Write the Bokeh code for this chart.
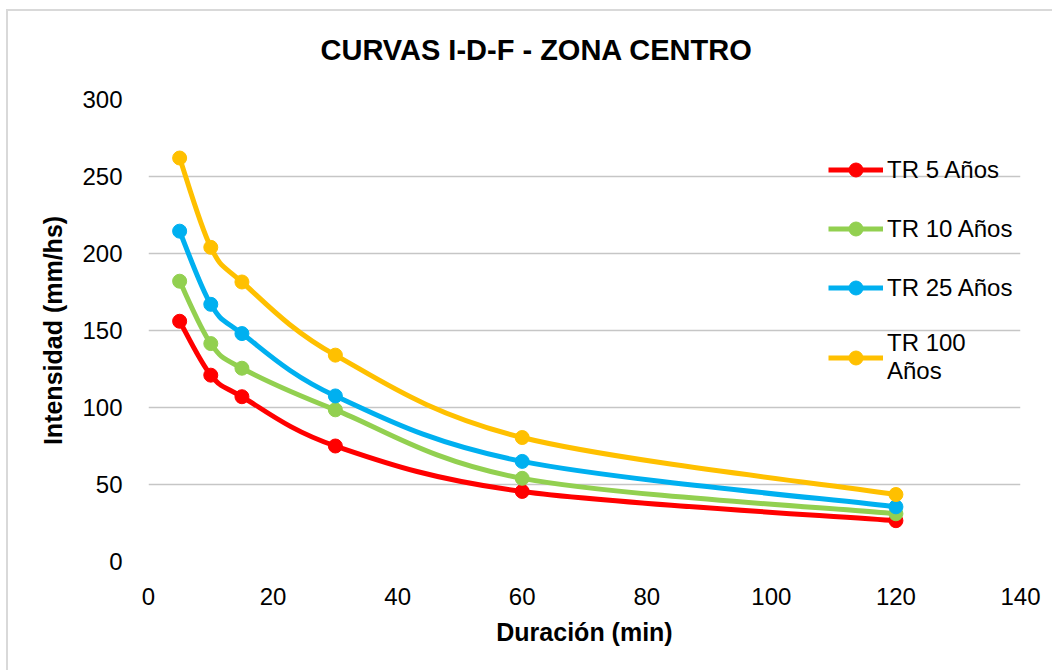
import numpy as np
from bokeh.plotting import figure
from bokeh.models import ColumnDataSource, Legend, LegendItem, Range1d, FixedTicker
from bokeh.embed import file_html
from bokeh.resources import INLINE

# ---- data ----
duracion = [5, 10, 15, 30, 60, 120]
tr5 = [156, 121, 107, 75, 45.5, 26.5]
tr10 = [182, 141.5, 125.5, 98.5, 54, 31]
tr25 = [214.5, 167, 148, 107.5, 65, 35.5]
tr100 = [262, 204, 181.5, 134, 80.5, 43.5]
series_names = ["TR 5 Años", "TR 10 Años", "TR 25 Años", "TR 100\nAños"]
series_colors = ["#FF0000", "#92D050", "#00B0F0", "#FFC000"]
x_ticks = [0, 20, 40, 60, 80, 100, 120, 140]
y_ticks = [0, 50, 100, 150, 200, 250, 300]
title_text = "CURVAS I-D-F  -  ZONA CENTRO"

FONT = "Liberation Sans"
OX, OY = 8, 11  # offset of chart box in the window

p = figure(width=1054 - OX, height=672 - OY, output_backend="svg", toolbar_location=None,
           x_range=Range1d(0, 140), y_range=Range1d(0, 300),
           min_border_left=148 - OX, min_border_right=34, min_border_top=99 - OY,
           min_border_bottom=111)
p.styles = {"margin-left": f"{OX - 2}px", "margin-top": f"{OY - 2}px",
            "border-left": "2px solid #d9d9d9", "border-top": "2px solid #d9d9d9"}

p.title.text = title_text + "\n"
p.title.text_font = FONT
p.title.text_font_size = "29px"
p.title.text_font_style = "bold"
p.title.text_color = "black"
p.title.align = "left"
p.title.offset = 172
p.title.standoff = 4

p.outline_line_color = None
p.background_fill_color = "white"
p.border_fill_color = "white"

p.xgrid.grid_line_color = None
p.ygrid.grid_line_color = "#c6c6c6"
p.ygrid.grid_line_width = 1.5
p.xaxis.ticker = FixedTicker(ticks=x_ticks)
p.yaxis.ticker = FixedTicker(ticks=y_ticks)
for ax in (p.xaxis, p.yaxis):
    ax.axis_line_color = None
    ax.major_tick_line_color = None
    ax.minor_tick_line_color = None
    ax.major_label_text_font = FONT
    ax.major_label_text_font_size = "24px"
    ax.major_label_text_color = "black"
    ax.axis_label_text_font = FONT
    ax.axis_label_text_font_size = "25px"
    ax.axis_label_text_font_style = "bold"
    ax.axis_label_text_color = "black"
p.xaxis.axis_label = "Duración (min)"
p.yaxis.axis_label = "Intensidad (mm/hs)"
p.xaxis.major_label_standoff = 20
p.yaxis.major_label_standoff = 20
p.xaxis.axis_label_standoff = 10
p.yaxis.axis_label_standoff = 12


def bezier_source(xs, ys):
    x = np.array(xs, dtype=float)
    y = np.array(ys, dtype=float)
    xp = np.concatenate([[x[0]], x, [x[-1]]])
    yp = np.concatenate([[y[0]], y, [y[-1]]])
    n = len(x)
    d = dict(x0=[], y0=[], x1=[], y1=[], cx0=[], cy0=[], cx1=[], cy1=[])
    for i in range(n - 1):
        d["x0"].append(xp[i + 1]); d["y0"].append(yp[i + 1])
        d["x1"].append(xp[i + 2]); d["y1"].append(yp[i + 2])
        d["cx0"].append(xp[i + 1] + (xp[i + 2] - xp[i]) / 6)
        d["cy0"].append(yp[i + 1] + (yp[i + 2] - yp[i]) / 6)
        d["cx1"].append(xp[i + 2] - (xp[i + 3] - xp[i + 1]) / 6)
        d["cy1"].append(yp[i + 2] - (yp[i + 3] - yp[i + 1]) / 6)
    return ColumnDataSource(d)


items = []
for name, col, vals in zip(series_names, series_colors, [tr5, tr10, tr25, tr100]):
    p.bezier(x0="x0", y0="y0", x1="x1", y1="y1", cx0="cx0", cy0="cy0", cx1="cx1", cy1="cy1",
             source=bezier_source(duracion, vals), line_color=col, line_width=5)
    lr = p.line(x=[np.nan], y=[np.nan], line_color=col, line_width=5)
    sr = p.scatter(x=duracion, y=vals, size=14, marker="circle", fill_color=col, line_color=col)
    items.append(LegendItem(label=name, renderers=[lr, sr]))

legend = Legend(items=items, location=(680, 176))
legend.label_text_font = FONT
legend.label_text_font_size = "24px"
legend.label_text_color = "black"
legend.glyph_width = 55
legend.glyph_height = 35
legend.label_height = 20
legend.label_standoff = 4
legend.spacing = 24
legend.padding = 0
legend.margin = 0
legend.border_line_color = None
legend.background_fill_alpha = 0
p.add_layout(legend, "center")

open("out.html", "w").write(file_html(p, INLINE))
